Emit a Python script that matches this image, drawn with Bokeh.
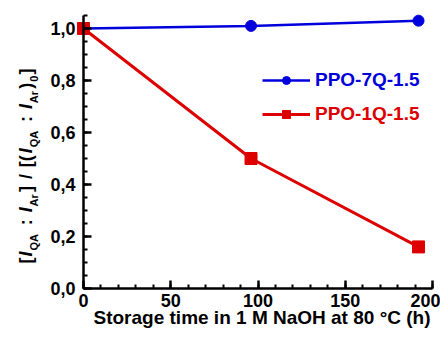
from bokeh.plotting import figure
from bokeh.models import Range1d, FixedTicker, CustomJSTickFormatter, Label, Legend, LegendItem
from bokeh.embed import file_html
from bokeh.resources import INLINE

# ---- data ----
time_h = [0, 96, 192]
ppo_7q = [1.00, 1.01, 1.03]
ppo_1q = [1.00, 0.50, 0.16]
series_names = ["PPO-7Q-1.5", "PPO-1Q-1.5"]
x_ticks = [0, 50, 100, 150, 200]
x_minor = [0, 10, 20, 30, 40, 50, 60, 70, 80, 90, 100, 110, 120, 130, 140, 150, 160, 170, 180, 190, 200]
y_ticks = [0.0, 0.2, 0.4, 0.6, 0.8, 1.0]
y_minor = [0.0, 0.05, 0.1, 0.15, 0.2, 0.25, 0.3, 0.35, 0.4, 0.45, 0.5, 0.55, 0.6, 0.65, 0.7, 0.75, 0.8, 0.85, 0.9, 0.95, 1.0, 1.05]
x_label = "Storage time in 1 M NaOH at 80 \u00b0C (h)"
# y label pieces: (text, style)
y_label_pieces = [("[", "m"), ("I", "i"), ("QA", "s"), (" : ", "m"), ("I", "i"), ("Ar", "s"), ("]", "m"),
                  (" / ", "m"), ("[(", "m"), ("I", "i"), ("QA", "s"), (" : ", "m"), ("I", "i"), ("Ar", "s"),
                  (")", "m"), ("0", "s"), ("]", "m")]

BLUE = "#0000dc"
RED = "#dc0000"
FONT = "Liberation Sans"

W, H = 440, 331
X0, Y0 = 83.0, 288.0   # canvas px of data origin
PX = 1.745             # px per hour
PY = 260.0             # px per unit

def dx(fx):
    return (fx - X0) / PX

def dy(fy):
    return (Y0 - fy) / PY

p = figure(width=W, height=H, x_range=Range1d(dx(0), dx(W)), y_range=Range1d(dy(H), dy(0)),
           output_backend="svg", toolbar_location=None,
           min_border_left=0, min_border_right=0, min_border_top=0, min_border_bottom=0)
p.xgrid.visible = False
p.ygrid.visible = False
p.outline_line_color = None
p.background_fill_color = "white"
p.border_fill_color = "white"

for ax in (p.xaxis[0], p.yaxis[0]):
    ax.axis_line_width = 2.5
    ax.axis_line_color = "black"
    ax.major_tick_line_width = 2.5
    ax.minor_tick_line_width = 2
    ax.major_tick_in = 8
    ax.major_tick_out = 0
    ax.minor_tick_in = 4
    ax.minor_tick_out = 0
    ax.major_label_text_font = FONT
    ax.major_label_text_font_style = "bold"
    ax.major_label_text_font_size = "18px"
    ax.major_label_text_color = "black"

p.xaxis.ticker = FixedTicker(ticks=x_ticks, minor_ticks=x_minor)
p.xaxis.bounds = (0, 200)
p.xaxis.fixed_location = 0
p.xaxis.major_label_standoff = 5
p.yaxis.ticker = FixedTicker(ticks=y_ticks, minor_ticks=y_minor)
p.yaxis.bounds = (0, 1.05)
p.yaxis.formatter = CustomJSTickFormatter(code="return tick.toFixed(1).replace('.', ',');")
p.yaxis.fixed_location = 0
p.yaxis.major_label_standoff = 8

r1l = p.line(time_h, ppo_7q, line_color=BLUE, line_width=2.5)
r1s = p.scatter(time_h, ppo_7q, marker="circle", size=11, fill_color=BLUE, line_color=BLUE)
r2l = p.line(time_h, ppo_1q, line_color=RED, line_width=3)
r2s = p.scatter(time_h, ppo_1q, marker="square", size=12, fill_color=RED, line_color=RED)

def make_legend(name, rends, loc, color):
    lg = Legend(items=[LegendItem(label=name, renderers=rends)], location=loc,
                border_line_color=None, background_fill_alpha=0, padding=0, margin=0, spacing=0,
                glyph_width=48, glyph_height=20, label_standoff=5, label_height=20,
                label_text_font=FONT, label_text_font_style="bold", label_text_font_size="19px",
                label_text_color=color)
    p.add_layout(lg)

make_legend(series_names[0], [r1l, r1s], (262, H - 91), BLUE)
make_legend(series_names[1], [r2l, r2s], (262, H - 125), RED)

# x axis title
p.add_layout(Label(x=dx(261.5), y=dy(317), text=x_label, text_align="center", text_baseline="middle",
                   text_font=FONT, text_font_style="bold", text_font_size="19px", text_color="black"))

# y axis title built from pieces (rotated); spaces are advanced, not drawn
widths = {"[": 0.333, "]": 0.333, "(": 0.333, ")": 0.333, "I": 0.278, "Q": 0.778, "A": 0.722,
          "r": 0.389, ":": 0.333, " ": 0.278, "/": 0.278, "0": 0.556}
MAIN, SUB = 18, 11

def wid(t, fs):
    return sum(widths[c] for c in t) * fs

natural = 0.0
for t, s in y_label_pieces:
    natural += wid(t, SUB if s == "s" else MAIN)
start_px, end_px = 263.0, 67.0
scale = (start_px - end_px) / natural
pos = start_px
main_x = dx(25.5)
sub_x = dx(33.5)
for t, s in y_label_pieces:
    fs = SUB if s == "s" else MAIN
    lead = len(t) - len(t.lstrip(" "))
    y_start = pos - wid(" " * lead, fs) * scale
    p.add_layout(Label(x=sub_x if s == "s" else main_x, y=dy(y_start), text=t.strip(), angle=90, angle_units="deg",
                       text_align="left", text_baseline="alphabetic", text_font=FONT,
                       text_font_style="bold italic" if s == "i" else "bold",
                       text_font_size=f"{fs}px", text_color="black"))
    pos -= wid(t, fs) * scale

open("out.html", "w").write(file_html(p, INLINE))
